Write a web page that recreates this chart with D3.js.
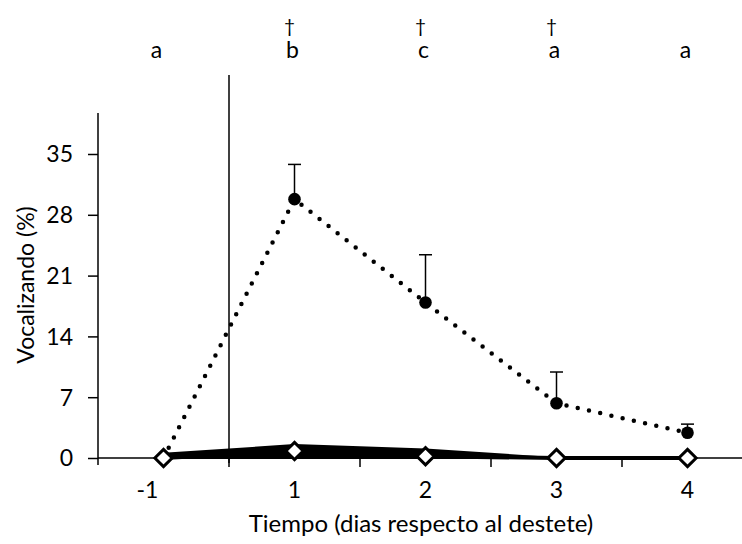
<!DOCTYPE html>
<html>
<head>
<meta charset="utf-8">
<script src="https://cdn.jsdelivr.net/npm/d3@7"></script>
<style>
  html, body { margin: 0; padding: 0; background: #fff; }
  svg { display: block; }
  text { font-family: Lato, "Noto Sans", sans-serif; fill: #000; }
</style>
</head>
<body>
<svg id="chart" width="742" height="544"></svg>
<script>
// ---- data ----
const categories = ["-1", "1", "2", "3", "4"];
const vocalMean  = [0, 29.8, 17.9, 6.3, 2.9];
const vocalUpper = [0, 33.8, 23.4, 9.9, 3.9];
const controlMean  = [0, 0.8, 0.2, 0, 0];
const controlUpper = [0.6, 1.6, 1.1, 0.1, 0.05];
const letters = ["a", "b", "c", "a", "a"];
const daggers = ["", "†", "†", "†", ""];
const yTicks = [0, 7, 14, 21, 28, 35];
const xTitle = "Tiempo (dias respecto al destete)";
const yTitle = "Vocalizando (%)";

// ---- layout ----
const svg = d3.select("#chart");
const mLeft = 98, mBottom = 458, mTop = 113;

const x = d3.scaleBand().domain(categories).range([mLeft, mLeft + 131 * categories.length]).padding(0);
const cx = c => x(c) + x.bandwidth() / 2;
const y = d3.scaleLinear().domain([0, 39.72]).range([mBottom, mTop]);

const vocal = categories.map((c, i) => ({c, v: vocalMean[i], u: vocalUpper[i]}));
const control = categories.map((c, i) => ({c, v: controlMean[i], u: controlUpper[i]}));

// y axis
const yAxis = svg.append("g").attr("transform", `translate(${mLeft},0)`)
  .call(d3.axisLeft(y).tickValues(yTicks).tickSize(10).tickPadding(15).tickSizeOuter(0));
yAxis.select(".domain").remove();
yAxis.selectAll(".tick line").attr("stroke", "#000").attr("stroke-width", 1.5);
yAxis.selectAll(".tick text").style("font-size", "23px").attr("dy", "0.34em");
svg.append("line").attr("x1", mLeft).attr("x2", mLeft).attr("y1", mTop).attr("y2", mBottom + 7)
  .attr("stroke", "#000").attr("stroke-width", 1.5);

// x axis
const xAxis = svg.append("g").attr("transform", `translate(0,${mBottom})`)
  .call(d3.axisBottom(x).tickSize(0).tickPadding(24).tickSizeOuter(0));
xAxis.select(".domain").remove();
xAxis.selectAll(".tick text").style("font-size", "23px")
  .attr("dx", (d, i) => i === 0 ? -16 : 0);
svg.append("line").attr("x1", mLeft).attr("x2", 742).attr("y1", mBottom).attr("y2", mBottom)
  .attr("stroke", "#000").attr("stroke-width", 1.5);
svg.append("g").selectAll("line").data(categories.slice(1)).join("line")
  .attr("x1", d => x(d)).attr("x2", d => x(d))
  .attr("y1", mBottom).attr("y2", mBottom + 9)
  .attr("stroke", "#000").attr("stroke-width", 1.5);

// vertical separator line (weaning)
svg.append("line").attr("x1", x(categories[1])).attr("x2", x(categories[1]))
  .attr("y1", 75).attr("y2", mBottom + 5)
  .attr("stroke", "#000").attr("stroke-width", 1.5);

// control band + line
svg.append("path").datum(control)
  .attr("d", d3.area().x(d => cx(d.c)).y0(d => y(0) + 1).y1(d => y(d.u)))
  .attr("fill", "#000");
svg.append("path").datum(control)
  .attr("d", d3.line().x(d => cx(d.c)).y(d => y(d.v)))
  .attr("fill", "none").attr("stroke", "#000").attr("stroke-width", 4);

// vocal dotted line
svg.append("path").datum(vocal)
  .attr("d", d3.line().x(d => cx(d.c)).y(d => y(d.v)))
  .attr("fill", "none").attr("stroke", "#000").attr("stroke-width", 4.5)
  .attr("stroke-linecap", "round").attr("stroke-dasharray", "0 11.5");

// error bars (upper)
const eb = svg.append("g").selectAll("g").data(vocal.filter(d => d.u > d.v)).join("g");
eb.append("line").attr("x1", d => cx(d.c)).attr("x2", d => cx(d.c))
  .attr("y1", d => y(d.v)).attr("y2", d => y(d.u))
  .attr("stroke", "#000").attr("stroke-width", 1.5);
eb.append("line").attr("x1", d => cx(d.c) - 6.5).attr("x2", d => cx(d.c) + 6.5)
  .attr("y1", d => y(d.u)).attr("y2", d => y(d.u))
  .attr("stroke", "#000").attr("stroke-width", 1.5);

// vocal circles
svg.append("g").selectAll("circle").data(vocal).join("circle")
  .attr("cx", d => cx(d.c)).attr("cy", d => y(d.v)).attr("r", 6.3)
  .attr("fill", "#000");

// control diamonds
svg.append("g").selectAll("path").data(control).join("path")
  .attr("d", d3.symbol().type(d3.symbolDiamond2).size(190))
  .attr("transform", d => `translate(${cx(d.c)},${y(d.v)})`)
  .attr("fill", "#fff").attr("stroke", "#000").attr("stroke-width", 3);

// significance letters
svg.append("g").selectAll("text").data(letters).join("text")
  .attr("x", (d, i) => cx(categories[i]) + (i === 0 ? -7 : -2))
  .attr("y", 58).attr("text-anchor", "middle")
  .style("font-size", "23px").text(d => d);
svg.append("g").selectAll("text").data(daggers).join("text")
  .attr("x", (d, i) => cx(categories[i]) - 5)
  .attr("y", 33).attr("text-anchor", "middle")
  .style("font-size", "19px").text(d => d);

// titles
svg.append("text").attr("x", 421).attr("y", 532).attr("text-anchor", "middle")
  .style("font-size", "24px").text(xTitle);
svg.append("text").attr("transform", "translate(34,285) rotate(-90)").attr("text-anchor", "middle")
  .style("font-size", "23px").text(yTitle);
</script>
</body>
</html>
